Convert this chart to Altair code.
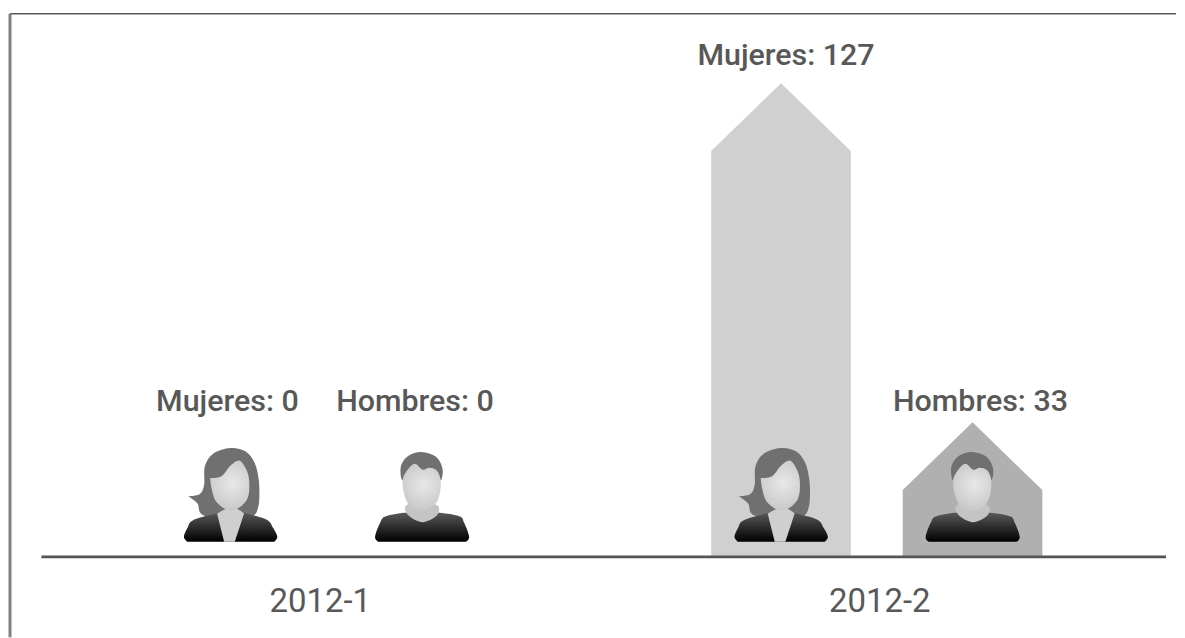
import altair as alt
import pandas as pd

# ---- datos
periodos = ["2012-1", "2012-2"]
sexos = ["Mujeres", "Hombres"]
mujeres = [0, 127]
hombres = [0, 33]

# ---- disposición
W, H = 1169, 630
GX0, GDX = 325, 552          # centre of first group / group spacing (page px)
PPU = 3.617                  # px per unit
BASE = -4.31                 # value at baseline
ROOF = 18.8                  # roof height in units
SIDE = 96 / GDX
HALF = 70 / GDX
FONT = "Roboto"
INK = "#585858"

x_dom = [(8 - GX0) / GDX, (8 + W - GX0) / GDX]
y_dom = [BASE - (638 - 557.5) / PPU, BASE + (557.5 - 8) / PPU]
X = alt.X("x:Q", scale=alt.Scale(domain=x_dom, nice=False, zero=False), axis=None)
Y = alt.Y("y:Q", scale=alt.Scale(domain=y_dom, nice=False, zero=False), axis=None, stack=None)


def level(py):
    return BASE + (557.5 - py) / PPU


def gx(px):
    return (px - GX0) / GDX


# casas
verts = []
for i, p in enumerate(periodos):
    for lado, s, vals in ((-1, "Mujeres", mujeres), (1, "Hombres", hombres)):
        v = vals[i]
        if v > 0:
            c = i + lado * SIDE
            for dx, yy in ((-HALF, v - ROOF), (0, v), (HALF, v - ROOF)):
                verts.append({"x": c + dx, "y": yy, "y2": BASE, "sexo": s, "id": p + s})
houses = alt.Chart(pd.DataFrame(verts)).mark_area(opacity=1, interpolate="linear").encode(
    x=X, y=Y, y2="y2:Q", detail="id:N",
    color=alt.Color("sexo:N", legend=None,
                    scale=alt.Scale(domain=sexos, range=["#d0d0d0", "#b0b0b0"])),
)

# línea base, borde
base_rule = alt.Chart(pd.DataFrame({"x": [gx(39.5)], "x2": [gx(1167)], "y": [BASE]})).mark_rule(
    color="#555555", strokeWidth=2.6).encode(x=X, x2="x2:Q", y=Y)
top_rule = alt.Chart(pd.DataFrame({"a": [0]})).mark_rule(color="#5a5a5a", strokeWidth=1.6).encode(
    x=alt.value(0), x2=alt.value(W), y=alt.value(5))
left_rule = alt.Chart(pd.DataFrame({"a": [0]})).mark_rule(color="#808080", strokeWidth=3).encode(
    x=alt.value(0), y=alt.value(5), y2=alt.value(H))


# iconos
def smooth(pts, ax, ay):
    n = len(pts)
    P = [((a - ax) / 3, (b - ay) / 3) for a, b in pts]
    d = f"M{P[0][0]:.2f} {P[0][1]:.2f}"
    for k in range(n):
        p0, p1, p2, p3 = P[k - 1], P[k], P[(k + 1) % n], P[(k + 2) % n]
        if p1 == p2:
            continue
        c1 = (p1[0] + (p2[0] - p0[0]) / 6, p1[1] + (p2[1] - p0[1]) / 6)
        c2 = (p2[0] - (p3[0] - p1[0]) / 6, p2[1] - (p3[1] - p1[1]) / 6)
        if p0 == p1:
            c1 = p1
        if p2 == p3:
            c2 = p2
        d += f"C{c1[0]:.2f} {c1[1]:.2f} {c2[0]:.2f} {c2[1]:.2f} {p2[0]:.2f} {p2[1]:.2f}"
    return d + "Z"


AW, AM, AY = 237, 813, 345
w_hair = [(237, 205), (282, 215), (310, 250), (322, 300), (324, 350), (320, 385), (305, 408),
          (260, 402), (200, 402), (165, 410), (145, 398), (138, 372), (110, 350), (110, 350),
          (145, 343), (158, 315), (160, 260), (185, 222)]
w_jacket = [(97, 472), (108, 445), (125, 422), (200, 400), (200, 400), (275, 400), (275, 400),
            (345, 420), (365, 445), (378, 472), (368, 487), (368, 487), (107, 487), (107, 487)]
w_blouse = [(197, 403), (197, 403), (225, 388), (255, 388), (278, 402), (278, 402), (250, 487),
            (250, 487), (218, 487), (218, 487)]
w_face = [(176, 295), (176, 295), (210, 290), (238, 257), (265, 243), (287, 275), (294, 315),
          (287, 360), (254, 390), (225, 390), (193, 365), (180, 325)]
m_hair = [(812, 217), (856, 232), (875, 268), (870, 302), (855, 285), (835, 275), (815, 280),
          (790, 265), (770, 275), (758, 302), (750, 292), (751, 255), (775, 227)]
m_body = [(672, 472), (688, 428), (705, 410), (770, 400), (790, 418), (815, 423), (840, 415),
          (855, 400), (925, 410), (940, 430), (955, 472), (945, 487), (945, 487), (682, 487),
          (682, 487)]
m_neck = [(770, 375), (854, 375), (860, 405), (815, 428), (770, 405)]
m_face = [(755, 300), (770, 270), (792, 252), (815, 270), (835, 264), (857, 272), (869, 300),
          (867, 340), (852, 375), (815, 394), (778, 382), (760, 345)]

dark = alt.Gradient(gradient="linear", x1=0, y1=0, x2=0, y2=1, stops=[
    alt.GradientStop(color="#585858", offset=0), alt.GradientStop(color="#000000", offset=1)])
face = alt.Gradient(gradient="radial", x1=0.55, y1=0.45, x2=0.55, y2=0.45, r1=0, r2=0.65, stops=[
    alt.GradientStop(color="#e8e8e8", offset=0), alt.GradientStop(color="#c2c2c2", offset=1)])

icon_y = level(495)


def icon_df(lado):
    return pd.DataFrame({"x": [i + lado * SIDE for i in range(len(periodos))],
                         "y": [icon_y] * len(periodos)})


def icon(path, fill, lado):
    return alt.Chart(icon_df(lado)).mark_point(
        shape=path, size=4, filled=True, fill=fill, opacity=1, strokeWidth=0
    ).encode(x=X, y=Y)


icons = [
    icon(smooth(w_hair, AW, AY), "#707070", -1),
    icon(smooth(w_jacket, AW, AY), dark, -1),
    icon(smooth(w_blouse, AW, AY), "#cfcfcf", -1),
    icon(smooth(w_face, AW, AY), face, -1),
    icon(smooth(m_hair, AM, AY), "#707070", 1),
    icon(smooth(m_body, AM, AY), dark, 1),
    icon(smooth(m_neck, AM, AY), "#c4c4c4", 1),
    icon(smooth(m_face, AM, AY), face, 1),
]

# etiquetas
etiquetas = ["Mujeres: 0", "Hombres: 0", "Mujeres: 127", "Hombres: 33"]
etiqueta_px = [226, 414, 786, 981]
etiqueta_py = [402, 402, 55, 402]
labels = alt.Chart(pd.DataFrame({
    "t": etiquetas,
    "x": [gx(p) for p in etiqueta_px],
    "y": [level(p) for p in etiqueta_py],
})).mark_text(font=FONT, fontSize=30.5, fontWeight=500, color=INK, baseline="middle", align="center").encode(
    x=X, y=Y, text="t:N")

per_px = [319, 880]
per_labels = alt.Chart(pd.DataFrame({
    "t": periodos,
    "x": [gx(p) for p in per_px],
    "y": [level(603)] * 2,
})).mark_text(font=FONT, fontSize=33, fontWeight=400, color=INK, baseline="middle", align="center").encode(
    x=X, y=Y, text="t:N")

chart = alt.layer(houses, base_rule, top_rule, left_rule, *icons, labels, per_labels).properties(
    width=W, height=H, padding=0, background="white"
).configure_view(stroke=None)

chart.save("out.html", embed_options={"renderer": "svg", "actions": False})
